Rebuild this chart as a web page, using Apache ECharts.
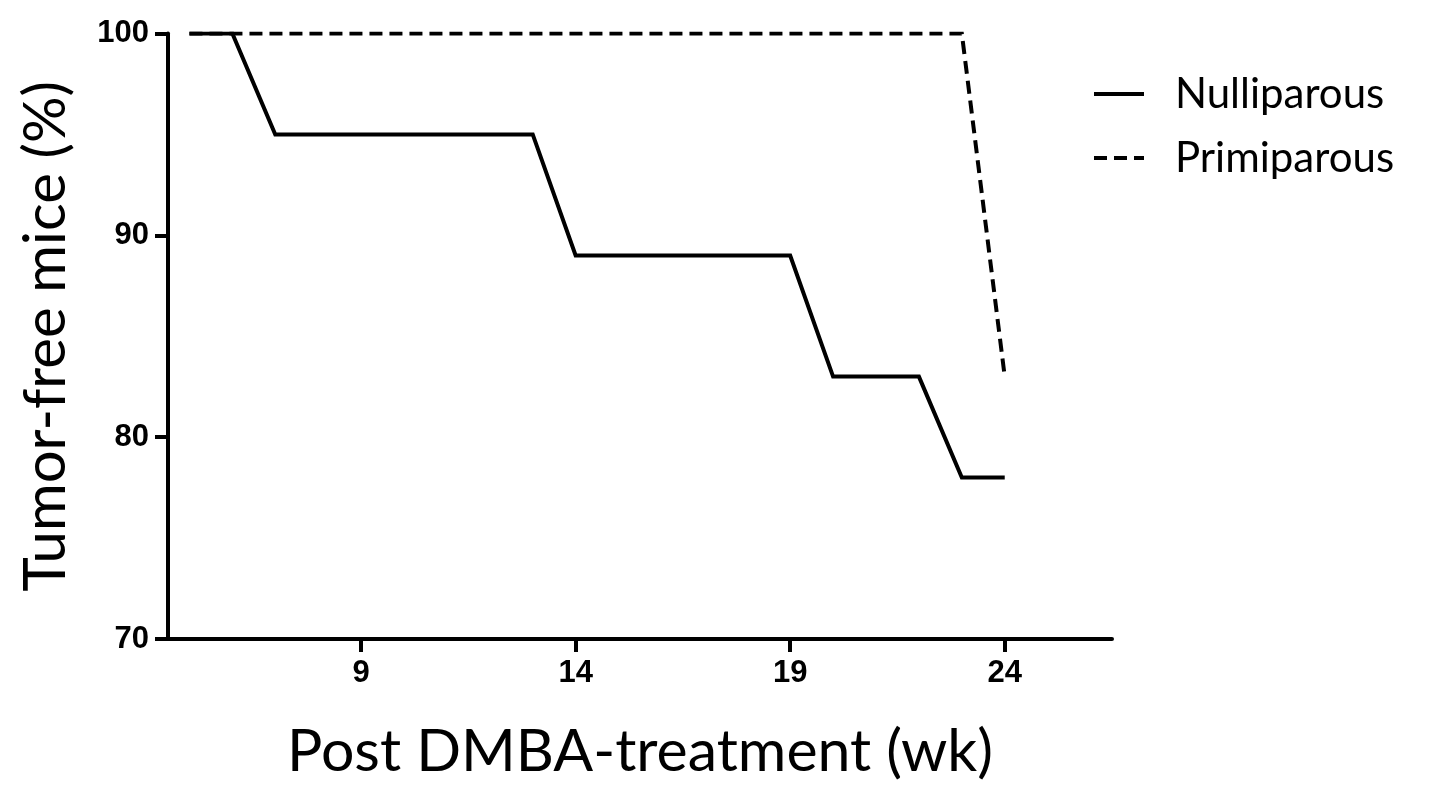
<!DOCTYPE html>
<html>
<head>
<meta charset="utf-8">
<script src="https://cdn.jsdelivr.net/npm/echarts@6/dist/echarts.min.js"></script>
<style>
html,body{margin:0;padding:0;background:#fff;}
#chart{width:1441px;height:794px;}
</style>
</head>
<body>
<div id="chart"></div>
<script>
// ---- data ----
const seriesNames = ['Nulliparous', 'Primiparous'];
const nulliWeeks = [5, 6, 7, 13, 14, 19, 20, 22, 23, 24];
const nulliValues = [100, 100, 95, 95, 89, 89, 83, 83, 78, 78];
const primiWeeks = [5, 23, 24];
const primiValues = [100, 100, 83];
const xTickValues = [9, 14, 19, 24];
const yTickValues = [70, 80, 90, 100];
const xTitle = 'Post DMBA-treatment (wk)';
const yTitle = 'Tumor-free mice (%)';

const pairs = (xs, ys) => xs.map((x, i) => [x, ys[i]]);

const titleFont = 'Lato';
const tickFont = '"Liberation Sans", Arial, sans-serif';

const chart = echarts.init(document.getElementById('chart'), null, {renderer: 'canvas'});
chart.setOption({
  backgroundColor: '#ffffff',
  animation: false,
  grid: {left: 168, right: 329, top: 33.5, bottom: 155, containLabel: false},
  legend: {
    orient: 'vertical',
    left: 1092,
    top: 73,
    padding: 0,
    itemWidth: 50,
    itemHeight: 20,
    itemGap: 22,
    data: seriesNames,
    textStyle: {fontFamily: titleFont, fontSize: 42, color: '#000', lineHeight: 40, padding: [0, 0, 0, 26]},
    lineStyle: {width: 4},
    itemStyle: {opacity: 0}
  },
  xAxis: {
    type: 'value',
    min: 4.5,
    max: 26.5,
    splitLine: {show: false},
    axisLine: {show: true, lineStyle: {color: '#000', width: 4}},
    axisTick: {show: true, length: 13, lineStyle: {color: '#000', width: 4}, customValues: xTickValues},
    axisLabel: {
      customValues: xTickValues,
      margin: 19,
      fontFamily: tickFont, fontWeight: 'bold', fontSize: 31, color: '#000'
    },
    name: xTitle,
    nameLocation: 'middle',
    nameGap: 83,
    nameTextStyle: {fontFamily: titleFont, fontSize: 59, color: '#000'}
  },
  yAxis: {
    type: 'value',
    min: 70,
    max: 100,
    interval: 10,
    splitLine: {show: false},
    axisLine: {show: true, lineStyle: {color: '#000', width: 4}},
    axisTick: {show: true, length: 13, lineStyle: {color: '#000', width: 4}},
    axisLabel: {
      customValues: yTickValues,
      margin: 19,
      fontFamily: tickFont, fontWeight: 'bold', fontSize: 31, color: '#000'
    },
    name: yTitle,
    nameLocation: 'middle',
    nameGap: 93,
    nameTextStyle: {fontFamily: titleFont, fontSize: 58, color: '#000'}
  },
  series: [
    {
      name: seriesNames[1],
      type: 'line',
      data: pairs(primiWeeks, primiValues),
      symbol: 'none',
      showSymbol: false,
      lineStyle: {color: '#000', width: 4, type: [13, 7], cap: 'butt', join: 'miter'},
      itemStyle: {color: '#000'},
      z: 2
    },
    {
      name: seriesNames[0],
      type: 'line',
      data: pairs(nulliWeeks, nulliValues),
      symbol: 'none',
      showSymbol: false,
      lineStyle: {color: '#000', width: 4, type: 'solid', cap: 'butt', join: 'miter'},
      itemStyle: {color: '#000'},
      z: 3
    }
  ]
});
</script>
</body>
</html>
